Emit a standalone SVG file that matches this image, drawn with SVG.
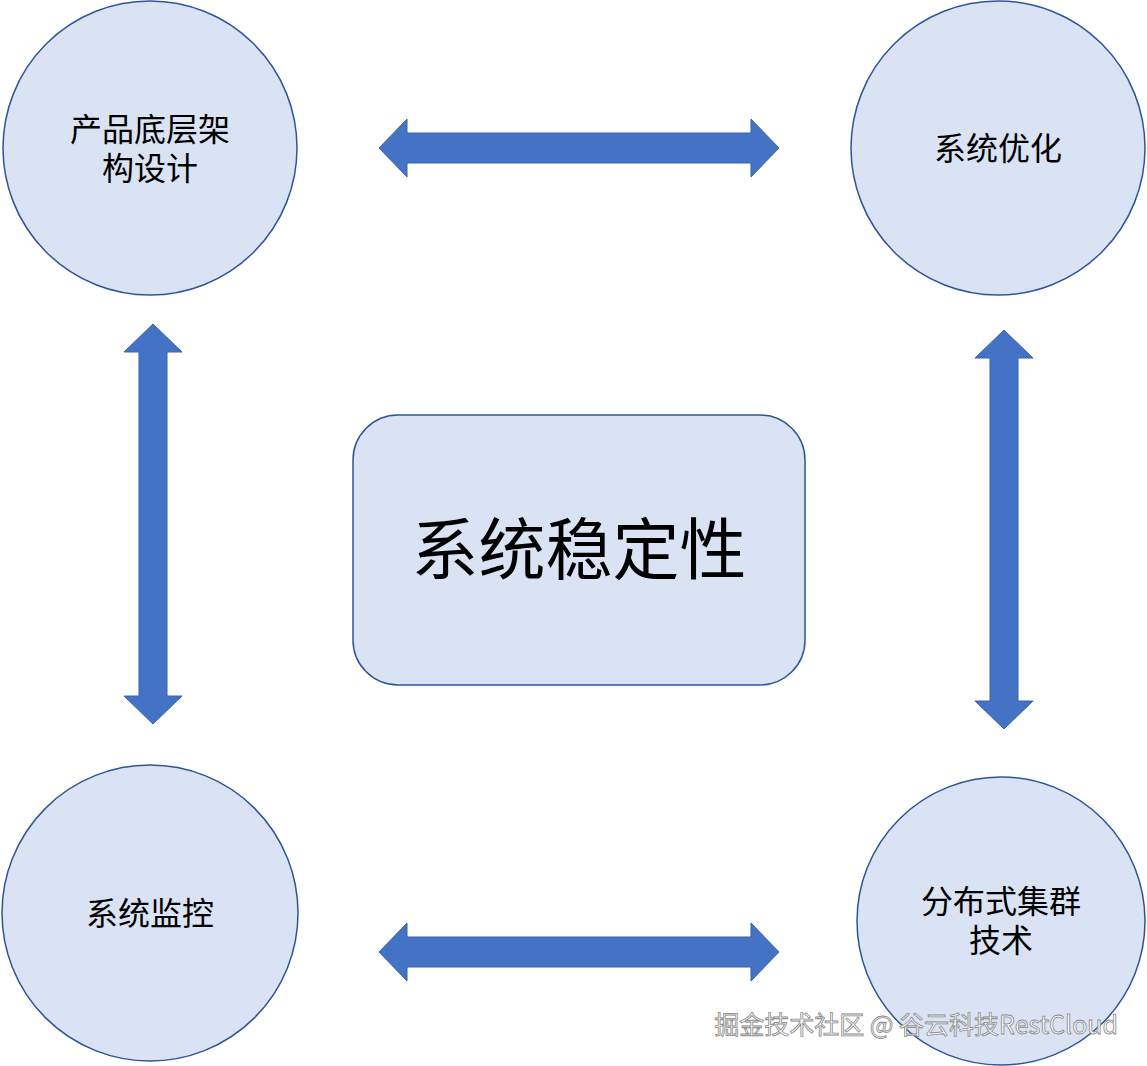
<svg xmlns="http://www.w3.org/2000/svg" width="1147" height="1066" viewBox="0 0 1147 1066">
<style>
.n{fill:#DAE3F3;stroke:#2F5597;stroke-width:1.5}
.t{font-family:"Noto Sans CJK SC",sans-serif;font-size:32px;fill:#000;text-anchor:middle}
.a{fill:#4472C4;stroke:#3A63AE;stroke-width:1}
</style>
<rect width="1147" height="1066" fill="#fff"/>
<g id="connectors">
<polygon class="a" points="379,148 407,119 407,133 751,133 751,119 779,148 751,177 751,163 407,163 407,177"/>
<polygon class="a" points="379,952 407,923 407,937 751,937 751,923 779,952 751,981 751,967 407,967 407,981"/>
<polygon class="a" points="153,324 182,352 167,352 167,696 182,696 153,724 124,696 139,696 139,352 124,352"/>
<polygon class="a" points="1004,330 1033,358 1018,358 1018,701 1033,701 1004,729 975,701 990,701 990,358 975,358"/>
</g>
<g id="center"><rect class="n" x="353" y="415" width="452" height="270" rx="45"/>
<text class="t" x="579" y="574" style="font-size:67px">系统稳定性</text></g>
<g id="n1"><circle class="n" cx="150" cy="148" r="147"/>
<text class="t" x="150" y="141">产品底层架</text><text class="t" x="150" y="180">构设计</text></g>
<g id="n2"><circle class="n" cx="998" cy="148" r="147"/>
<text class="t" x="998" y="160">系统优化</text></g>
<g id="n3"><circle class="n" cx="150" cy="913" r="148"/>
<text class="t" x="150" y="925">系统监控</text></g>
<g id="n4"><circle class="n" cx="1001" cy="921" r="144"/>
<text class="t" x="1001" y="913">分布式集群</text><text class="t" x="1001" y="952">技术</text></g>
<text x="1118" y="1034" style="font-family:'Noto Sans CJK SC',sans-serif;font-size:25px;fill:#fff;stroke:#888;stroke-width:0.8;text-anchor:end">掘金技术社区 @ 谷云科技RestCloud</text>
</svg>
